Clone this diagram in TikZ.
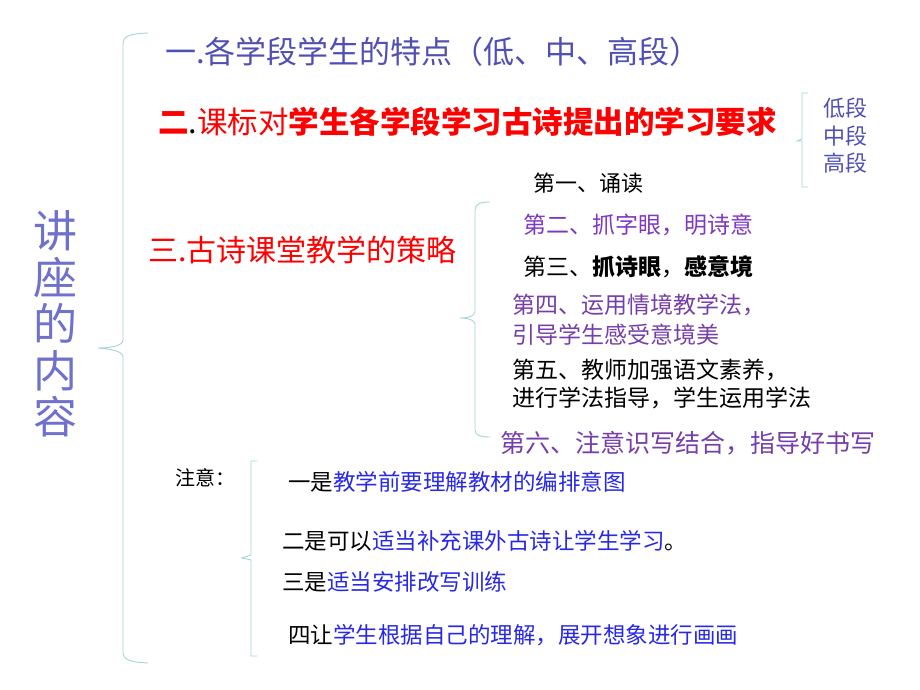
\documentclass[tikz,border=0pt]{standalone}
\usepackage{fontspec}
\setmainfont{Noto Sans CJK SC}
\definecolor{bluep}{RGB}{80,80,180}
\definecolor{titlec}{RGB}{112,112,205}
\definecolor{redc}{RGB}{255,0,0}
\definecolor{purp}{RGB}{128,56,196}
\definecolor{purp2}{RGB}{118,62,170}
\definecolor{bluet}{RGB}{40,40,230}
\definecolor{bracec}{RGB}{168,212,214}
\tikzset{
  txt/.style={anchor=west,inner sep=0pt,align=left},
  bracket/.style={draw=bracec,line width=0.9pt},
}
\newcommand{\fsz}[2]{\fontsize{#1}{#2}\selectfont}
\begin{document}
\begin{tikzpicture}[x=1pt,y=-1pt]
\useasboundingbox (0,0) rectangle (920,690);
\fill[white] (0,0) rectangle (920,690);
% title
\node[inner sep=0pt,align=center,text=titlec,font=\fsz{44}{46.5}] (title) at (55,324) {讲\\座\\的\\内\\容};
% big brace
\coordinate (bA) at (148,33);
\coordinate (bB) at (148,663);
\coordinate (bT) at (98,348);
\draw[bracket] (bA) .. controls (128,34) and (123,36) .. (123,45) -- (123,340) .. controls (123,346) and (110,348) .. (bT) .. controls (110,349) and (123,351) .. (123,357) -- (123,652) .. controls (123,660) and (130,662) .. (bB);
% headings
\node[txt,text=bluep,font=\fsz{31}{36}] (h1) at (165,52) {一.各学段学生的特点（低、中、高段）};
\node[txt,text=redc,font=\fsz{30.5}{36}] (h2) at (158,122) {\textbf{二}\textcolor{black}{.}课标对\textbf{学生各学段学习古诗提出的学习要求}};
\node[txt,text=redc,font=\fsz{30}{36}] (h3) at (148,250) {三.古诗课堂教学的策略};
% levels brace
\coordinate (lA) at (808,93);
\coordinate (lB) at (808,187);
\coordinate (lT) at (797,141);
\draw[bracket] (lA) -- (802,93) -- (802,139) -- (lT) -- (802,141) -- (802,187) -- (lB);
\node[txt,text=bluep,font=\fsz{22}{26}] (l1) at (823,108) {低段};
\node[txt,text=bluep,font=\fsz{22}{26}] (l2) at (823,136) {中段};
\node[txt,text=bluep,font=\fsz{22}{26}] (l3) at (823,163) {高段};
% strategy brace
\coordinate (sA) at (490,202);
\coordinate (sB) at (490,437);
\coordinate (sT) at (460,318);
\draw[bracket] (sA) .. controls (480,202) and (475,204) .. (475,210) -- (475,312) .. controls (475,316) and (468,318) .. (sT) .. controls (468,318) and (475,320) .. (475,324) -- (475,430) .. controls (475,435) and (480,437) .. (sB);
\node[txt,font=\fsz{22}{28}] (s1) at (533,183) {第一、诵读};
\node[txt,text=purp,font=\fsz{23}{28}] (s2) at (523,225) {第二、抓字眼，明诗意};
\node[txt,font=\fsz{23}{28}] (s3) at (523,267) {第三、\textbf{抓诗眼}，\textbf{感意境}};
\node[txt,text=purp2,font=\fsz{23}{30}] (s4) at (512,320) {第四、运用情境教学法，\\引导学生感受意境美};
\node[txt,font=\fsz{23}{28}] (s5) at (512,384) {第五、教师加强语文素养，\\进行学法指导，学生运用学法};
\node[txt,text=purp2,font=\fsz{25}{30}] (s6) at (500,443) {第六、注意识写结合，指导好书写};
% notes
\node[txt,font=\fsz{20}{24}] (n0) at (175,478) {注意：};
\coordinate (nA) at (257,461);
\coordinate (nB) at (257,656);
\coordinate (nT) at (242,558);
\draw[bracket] (nA) -- (251,461) -- (251,555) -- (nT) -- (251,560) -- (251,656) -- (nB);
\node[txt,font=\fsz{22.5}{27}] (n1) at (288,482) {一是\textcolor{bluet}{教学前要理解教材的编排意图}};
\node[txt,font=\fsz{22.5}{27}] (n2) at (282,541) {二是可以\textcolor{bluet}{适当补充课外古诗让学生学习}。};
\node[txt,font=\fsz{22.5}{27}] (n3) at (282,582) {三是\textcolor{bluet}{适当安排改写训练}};
\node[txt,font=\fsz{22.5}{27}] (n4) at (288,635) {四让\textcolor{bluet}{学生根据自己的理解，展开想象进行画画}};
\end{tikzpicture}
\end{document}
